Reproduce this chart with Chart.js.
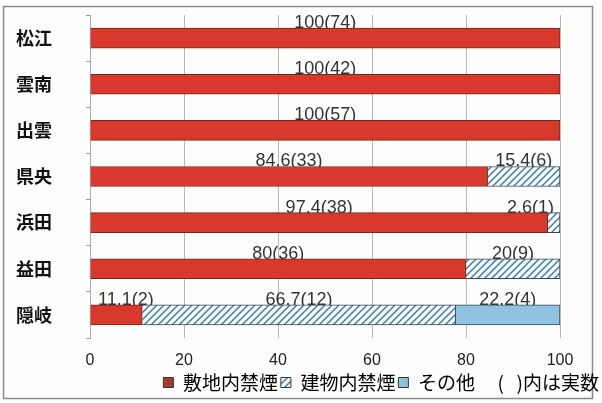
<!DOCTYPE html>
<html>
<head>
<meta charset="utf-8">
<script src="https://cdn.jsdelivr.net/npm/chart.js@4/dist/chart.umd.min.js"></script>
<style>
  body { margin: 0; background: #fdfdfb; }
  #wrap { width: 602px; height: 403px; }
</style>
</head>
<body>
<div id="wrap"><canvas id="chart" width="602" height="403"></canvas></div>
<script>
const categories = ["松江", "雲南", "出雲", "県央", "浜田", "益田", "隠岐"];
const shikichi = [100, 100, 100, 84.6, 97.4, 80, 11.1];
const shikichiN = [74, 42, 57, 33, 38, 36, 2];
const tatemono = [0, 0, 0, 15.4, 2.6, 20, 66.7];
const tatemonoN = [0, 0, 0, 6, 1, 9, 12];
const sonota = [0, 0, 0, 0, 0, 0, 22.2];
const sonotaN = [0, 0, 0, 0, 0, 0, 4];
const xTicks = [0, 20, 40, 60, 80, 100];

// ハッチング
function makeHatch() {
  const c = document.createElement("canvas");
  c.width = 7; c.height = 7;
  const g = c.getContext("2d");
  g.fillStyle = "#f4f9fc";
  g.fillRect(0, 0, 7, 7);
  g.strokeStyle = "#3a78a8";
  g.lineWidth = 1.4;
  g.beginPath();
  g.moveTo(-1, 8); g.lineTo(8, -1);
  g.moveTo(-4, 4); g.lineTo(4, -4);
  g.moveTo(3, 11); g.lineTo(11, 3);
  g.stroke();
  return document.getElementById("chart").getContext("2d").createPattern(c, "repeat");
}
const hatch = makeHatch();

const counts = [shikichiN, tatemonoN, sonotaN];

const frame = {
  id: "frame",
  beforeDraw(chart) {
    const ctx = chart.ctx;
    ctx.save();
    ctx.fillStyle = "#fdfdfb";
    ctx.fillRect(0, 0, chart.width, chart.height);
    ctx.strokeStyle = "#8a8a8a";
    ctx.lineWidth = 1.5;
    ctx.strokeRect(3.5, 6.5, 589, 392);
    ctx.restore();
  }
};

// 棒の上の数値（棒の上端が文字の下を少し隠す）
const valueLabels = {
  id: "valueLabels",
  beforeDatasetsDraw(chart) {
    const ctx = chart.ctx;
    const area = chart.chartArea;
    ctx.save();
    ctx.font = "18px 'Liberation Sans Narrow', 'Liberation Sans', sans-serif";
    ctx.fillStyle = "#333";
    ctx.textBaseline = "bottom";
    ctx.textAlign = "left";
    chart.data.datasets.forEach((ds, di) => {
      const meta = chart.getDatasetMeta(di);
      meta.data.forEach((bar, i) => {
        const v = ds.data[i];
        if (!v) return;
        const txt = v + "(" + counts[di][i] + ")";
        const w = ctx.measureText(txt).width;
        let x = (bar.base + bar.x) / 2 - w / 2;
        if (x + w > area.right - 6) x = area.right - 6 - w;
        if (x < area.left + 8) x = area.left + 8;
        ctx.fillText(txt, x, bar.y - bar.height / 2 + 4);
      });
    });
    ctx.restore();
  }
};

new Chart(document.getElementById("chart"), {
  type: "bar",
  data: {
    labels: categories,
    datasets: [
      { label: "敷地内禁煙", data: shikichi, backgroundColor: "#d8392c", borderColor: "#6e2a22", borderWidth: 1, barThickness: 20 },
      { label: "建物内禁煙", data: tatemono, backgroundColor: hatch, borderColor: "#3a4a5a", borderWidth: 1, barThickness: 20 },
      { label: "その他", data: sonota, backgroundColor: "#8fc3e0", borderColor: "#3a4a5a", borderWidth: 1, barThickness: 20 }
    ]
  },
  options: {
    indexAxis: "y",
    responsive: false,
    animation: false,
    layout: { padding: { top: 15, right: 0, bottom: 1, left: 16 } },
    scales: {
      x: {
        stacked: true,
        min: 0,
        max: 100,
        afterBuildTicks(axis) { axis.ticks = xTicks.map(v => ({ value: v })); },
        afterFit(axis) { axis.height = 32; },
        grid: { color: "#b8b8b8", drawTicks: false },
        border: { display: false },
        ticks: { color: "#222", padding: 13, font: { size: 16, family: "'Liberation Sans', sans-serif" } }
      },
      y: {
        stacked: true,
        afterFit(axis) { axis.width = 74; },
        grid: { drawOnChartArea: false, color: "#999", tickLength: 4, offset: true },
        border: { color: "#aaa" },
        ticks: { color: "#111", padding: 0, crossAlign: "far", font: { size: 18, weight: "bold", family: "'Noto Sans CJK JP', sans-serif" } }
      },
      y2: {
        type: "category",
        labels: categories,
        position: "right",
        afterFit(axis) { axis.width = 42; },
        grid: { display: false },
        border: { display: false },
        ticks: { display: false }
      }
    },
    plugins: {
      tooltip: { enabled: false },
      legend: {
        position: "bottom",
        align: "end",
        labels: {
          color: "#222",
          boxWidth: 10,
          boxHeight: 10,
          padding: 3,
          font: { size: 19, family: "'Noto Sans CJK JP', sans-serif" },
          generateLabels(chart) {
            const items = chart.data.datasets.map((ds, i) => ({
              text: ds.label,
              fillStyle: i === 0 ? "#a63a2e" : ds.backgroundColor,
              strokeStyle: "#333",
              lineWidth: 1,
              datasetIndex: i
            }));
            items.push({ text: "(   )内は実数", fillStyle: "rgba(0,0,0,0)", strokeStyle: "rgba(0,0,0,0)", lineWidth: 0 });
            return items;
          }
        }
      }
    }
  },
  plugins: [frame, valueLabels]
});
</script>
</body>
</html>
